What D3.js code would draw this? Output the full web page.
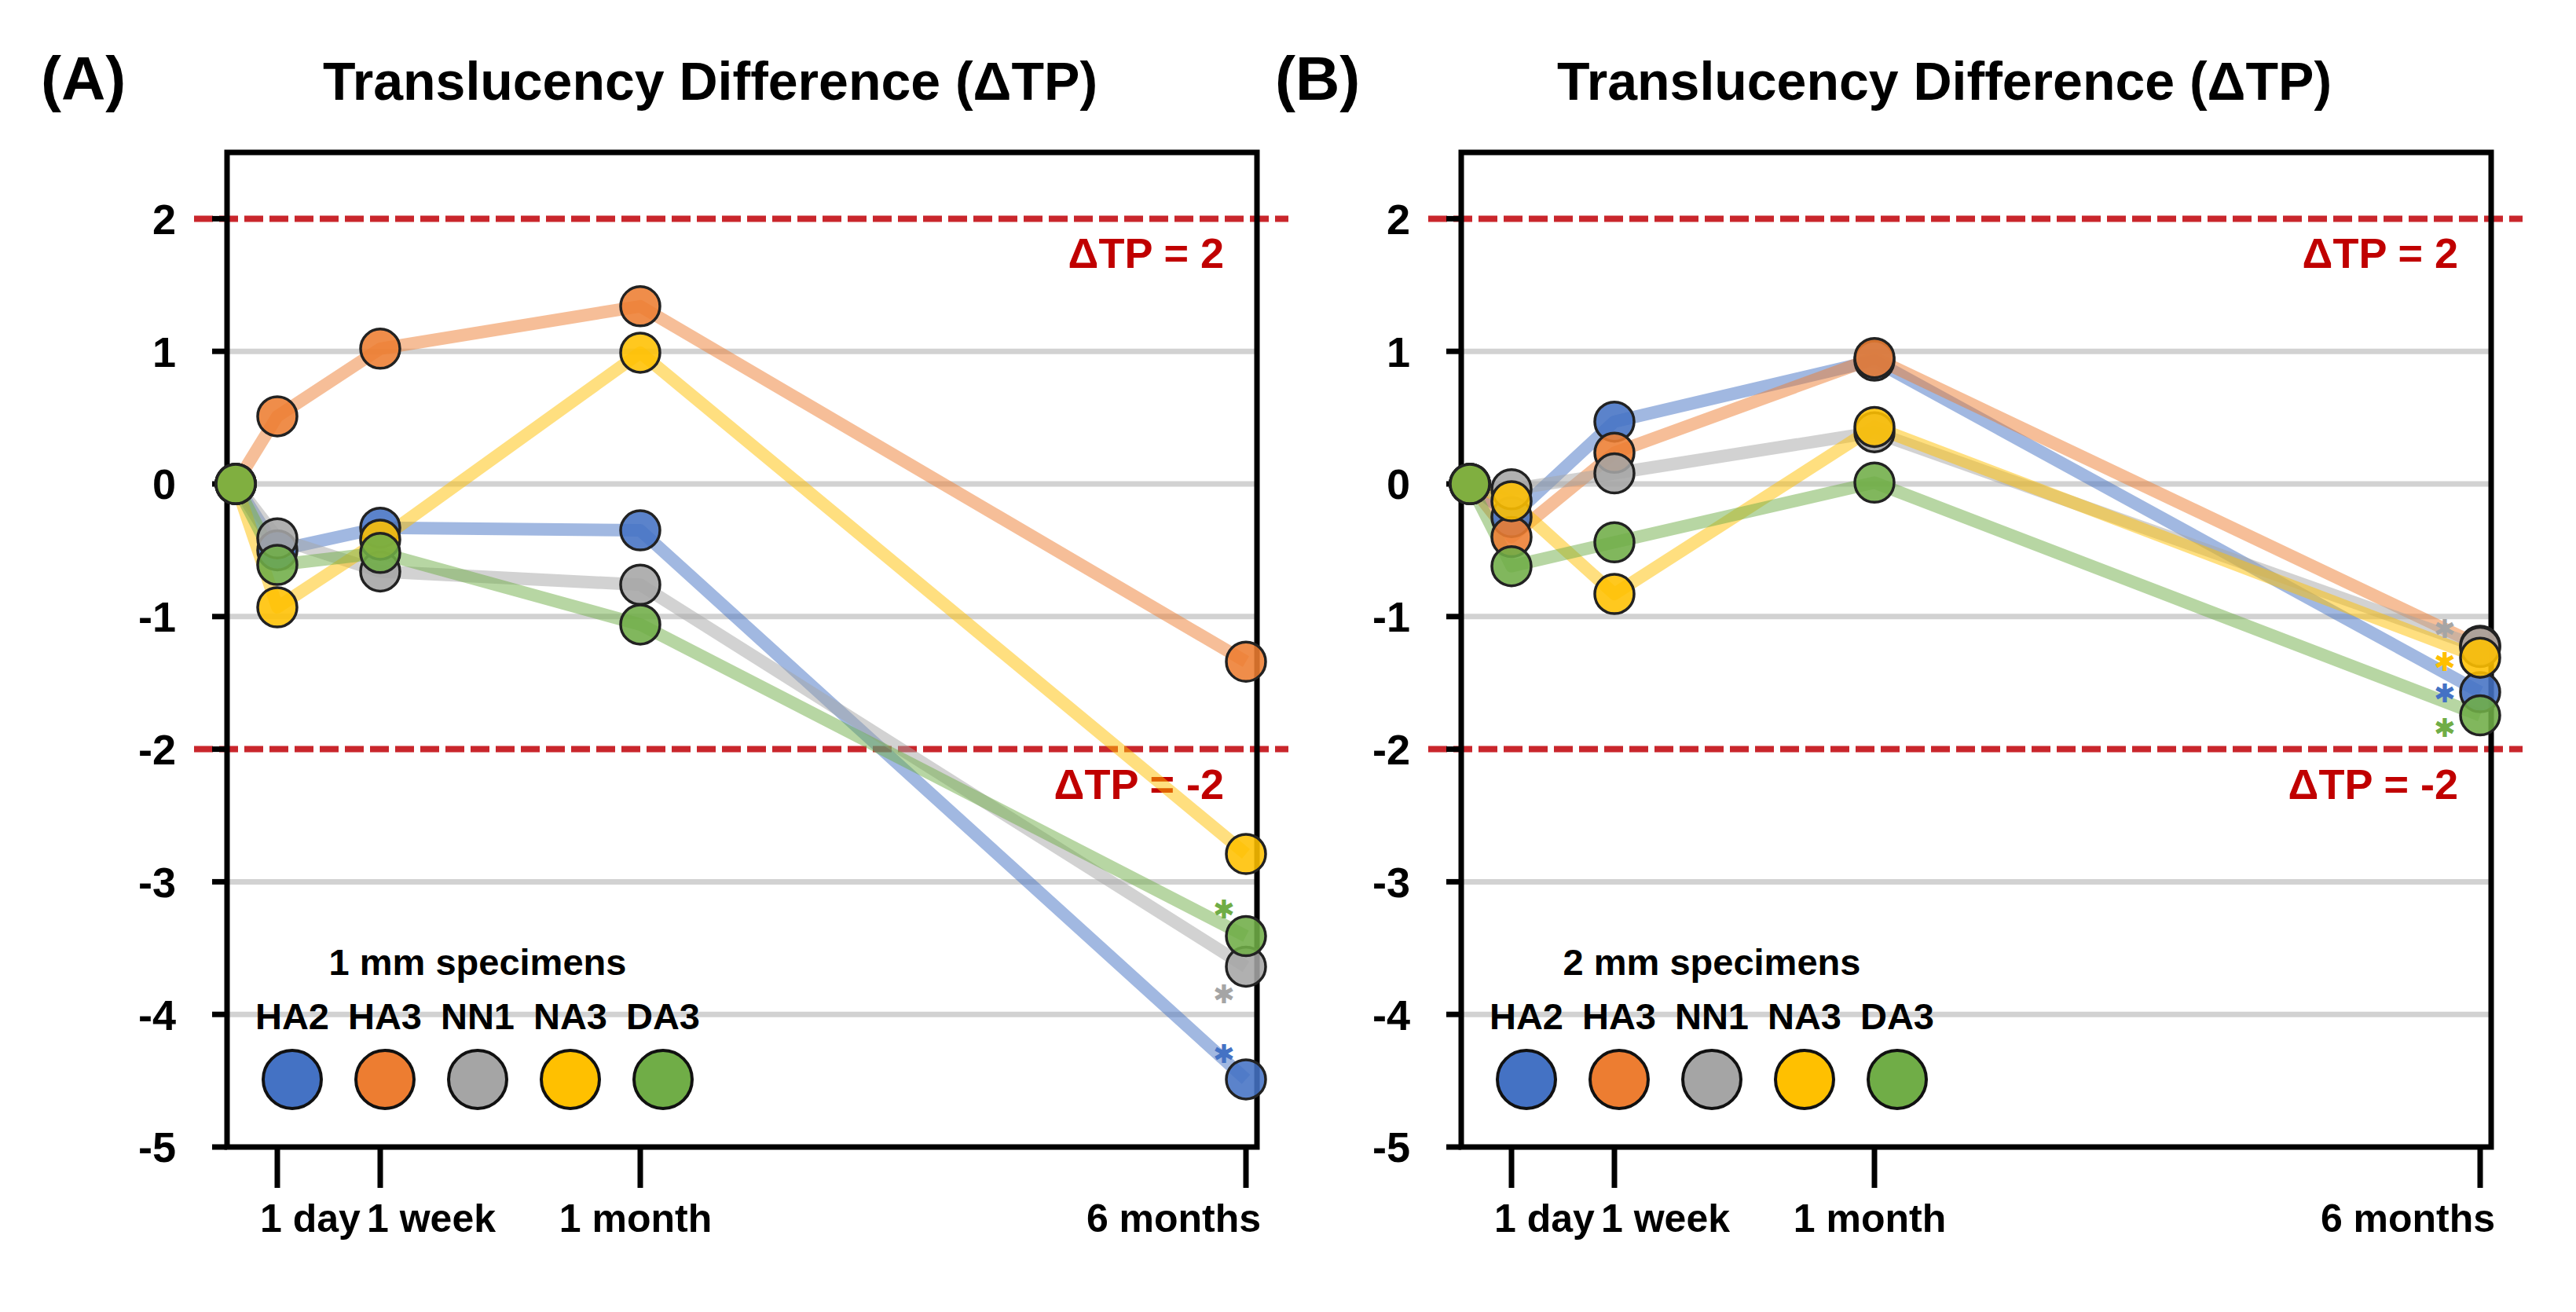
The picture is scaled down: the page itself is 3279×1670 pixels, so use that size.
<!DOCTYPE html>
<html>
<head>
<meta charset="utf-8">
<script src="https://cdn.jsdelivr.net/npm/d3@7"></script>
<style>
  body { margin: 0; background: #fff; }
  text { font-family: "Liberation Sans", Arial, sans-serif; font-weight: bold; }
</style>
</head>
<body>
<svg id="chart" width="3279" height="1670"></svg>
<script>
// ---- data ----
const timeLabels = ['0', '1 day', '1 week', '1 month', '6 months'];
const timePos = [0, 0.53, 1.84, 5.15, 12.86];   // x-axis units (stretched time axis)
const seriesNames = ['HA2', 'HA3', 'NN1', 'NA3', 'DA3'];
const seriesColors = ['#4472C4', '#ED7D31', '#A5A5A5', '#FFC000', '#70AD47'];

const yTicks = [2, 1, 0, -1, -2, -3, -4, -5];
const gridValues = [1, 0, -1, -3, -4];
const limitValues = [2, -2];
const limitLabels = ['ΔTP = 2', 'ΔTP = -2'];

// (A) 1 mm specimens
const ha2_1mm = [0, -0.50, -0.33, -0.35, -4.49];
const ha3_1mm = [0, 0.51, 1.02, 1.34, -1.34];
const nn1_1mm = [0, -0.41, -0.66, -0.76, -3.64];
const na3_1mm = [0, -0.93, -0.42, 0.99, -2.79];
const da3_1mm = [0, -0.61, -0.52, -1.06, -3.41];
const sigNames_1mm = ['DA3', 'NN1', 'HA2'];
const sigY_1mm = [-3.21, -3.85, -4.30];

// (B) 2 mm specimens
const ha2_2mm = [0, -0.25, 0.47, 0.93, -1.57];
const ha3_2mm = [0, -0.40, 0.235, 0.95, -1.22];
const nn1_2mm = [0, -0.04, 0.08, 0.39, -1.23];
const na3_2mm = [0, -0.13, -0.83, 0.43, -1.31];
const da3_2mm = [0, -0.62, -0.44, 0.01, -1.745];
const sigNames_2mm = ['NN1', 'NA3', 'HA2', 'DA3'];
const sigY_2mm = [-1.09, -1.34, -1.58, -1.84];

// ---- drawing ----
const svg = d3.select('#chart');
svg.append('rect').attr('width', 3279).attr('height', 1670).attr('fill', '#fff');

const color = d3.scaleOrdinal().domain(seriesNames).range(seriesColors);
const y = d3.scaleLinear().domain([-5, 2.5]).range([1460, 194]);
const labelDx = [42, 65, -6, -92];

function drawPanel(left, tag, legendTitle, values, sigNames, sigY, sigDx) {
    const width = 1311;
    const x0 = left, x1 = left + width;
    const x = d3.scaleLinear().domain([-0.11, 13.0]).range([x0, x1]);
    const g = svg.append('g');

    // panel tag and title
    g.append('text')
        .attr('x', x0 - 237).attr('y', 127)
        .style('font-size', '78px')
        .text(tag);
    g.append('text')
        .attr('x', x0 + 615).attr('y', 127)
        .attr('text-anchor', 'middle')
        .style('font-size', '68px')
        .text('Translucency Difference (ΔTP)');

    // gridlines
    g.selectAll('line.grid')
        .data(gridValues)
        .join('line')
        .attr('class', 'grid')
        .attr('x1', x0).attr('x2', x1)
        .attr('y1', d => y(d)).attr('y2', d => y(d))
        .attr('stroke', '#d2d2d2')
        .attr('stroke-width', 7);

    // limit lines
    g.selectAll('line.limit')
        .data(limitValues)
        .join('line')
        .attr('class', 'limit')
        .attr('x1', x0 - 42).attr('x2', x1 + 40)
        .attr('y1', d => y(d)).attr('y2', d => y(d))
        .attr('stroke', '#c9262c')
        .attr('stroke-width', 8)
        .attr('stroke-dasharray', '24 8');

    g.selectAll('text.limit')
        .data(limitValues)
        .join('text')
        .attr('class', 'limit')
        .attr('x', x1 - 42)
        .attr('y', d => y(d) + 63)
        .attr('text-anchor', 'end')
        .attr('fill', '#c00000')
        .style('font-size', '54px')
        .text((d, i) => limitLabels[i]);

    // frame
    g.append('rect')
        .attr('x', x0).attr('y', y(2.5))
        .attr('width', width).attr('height', y(-5) - y(2.5))
        .attr('fill', 'none')
        .attr('stroke', '#000')
        .attr('stroke-width', 7);

    // y ticks and labels
    g.selectAll('line.ytick')
        .data(yTicks)
        .join('line')
        .attr('class', 'ytick')
        .attr('x1', x0 - 19).attr('x2', x0)
        .attr('y1', d => y(d)).attr('y2', d => y(d))
        .attr('stroke', '#000')
        .attr('stroke-width', 7);
    g.selectAll('text.ytick')
        .data(yTicks)
        .join('text')
        .attr('class', 'ytick')
        .attr('x', x0 - 65)
        .attr('y', d => y(d))
        .attr('dy', '0.36em')
        .attr('text-anchor', 'end')
        .style('font-size', '54px')
        .text(d => d);

    // x ticks and labels (the origin has no tick)
    const xt = timePos.slice(1);
    g.selectAll('line.xtick')
        .data(xt)
        .join('line')
        .attr('class', 'xtick')
        .attr('x1', d => x(d)).attr('x2', d => x(d))
        .attr('y1', y(-5)).attr('y2', y(-5) + 52)
        .attr('stroke', '#000')
        .attr('stroke-width', 7);
    g.selectAll('text.xtick')
        .data(xt)
        .join('text')
        .attr('class', 'xtick')
        .attr('x', (d, i) => x(d) + labelDx[i])
        .attr('y', 1568)
        .attr('text-anchor', 'middle')
        .style('font-size', '50px')
        .text((d, i) => timeLabels[i + 1]);

    // series lines
    const line = d3.line()
        .x((d, i) => x(timePos[i]))
        .y(d => y(d));
    g.selectAll('path.series')
        .data(values)
        .join('path')
        .attr('class', 'series')
        .attr('d', d => line(d))
        .attr('fill', 'none')
        .attr('stroke', (d, i) => seriesColors[i])
        .attr('stroke-opacity', 0.5)
        .attr('stroke-width', 16)
        .attr('stroke-linejoin', 'round');

    // markers
    values.forEach((vals, si) => {
        g.selectAll(null)
            .data(vals)
            .join('circle')
            .attr('cx', (d, i) => x(timePos[i]))
            .attr('cy', d => y(d))
            .attr('r', 25)
            .attr('fill', seriesColors[si])
            .attr('fill-opacity', 0.88)
            .attr('stroke', '#222')
            .attr('stroke-width', 3.5);
    });

    // significance asterisks (compact glyph so the stacked marks stay apart)
    g.selectAll('text.sig')
        .data(sigNames)
        .join('text')
        .attr('class', 'sig')
        .attr('x', x(timePos[4]) + sigDx)
        .attr('y', (d, i) => y(sigY[i]))
        .attr('dy', '0.35em')
        .attr('text-anchor', 'middle')
        .attr('fill', d => color(d))
        .style('font-family', '"DejaVu Sans", sans-serif')
        .style('font-weight', 'normal')
        .style('font-size', '33px')
        .text('✱');

    // legend
    const lx = d3.scalePoint().domain(seriesNames).range([x0 + 83, x0 + 555]);
    g.append('text')
        .attr('x', x0 + 319).attr('y', 1241)
        .attr('text-anchor', 'middle')
        .style('font-size', '47px')
        .text(legendTitle);
    g.selectAll('text.leg')
        .data(seriesNames)
        .join('text')
        .attr('class', 'leg')
        .attr('x', d => lx(d)).attr('y', 1310)
        .attr('text-anchor', 'middle')
        .style('font-size', '47px')
        .text(d => d);
    g.selectAll('circle.leg')
        .data(seriesNames)
        .join('circle')
        .attr('class', 'leg')
        .attr('cx', d => lx(d)).attr('cy', 1374)
        .attr('r', 37)
        .attr('fill', d => color(d))
        .attr('stroke', '#111')
        .attr('stroke-width', 4);
}

drawPanel(289, '(A)', '1 mm specimens',
    [ha2_1mm, ha3_1mm, nn1_1mm, na3_1mm, da3_1mm], sigNames_1mm, sigY_1mm, -28);
drawPanel(1860, '(B)', '2 mm specimens',
    [ha2_2mm, ha3_2mm, nn1_2mm, na3_2mm, da3_2mm], sigNames_2mm, sigY_2mm, -45);
</script>
</body>
</html>
